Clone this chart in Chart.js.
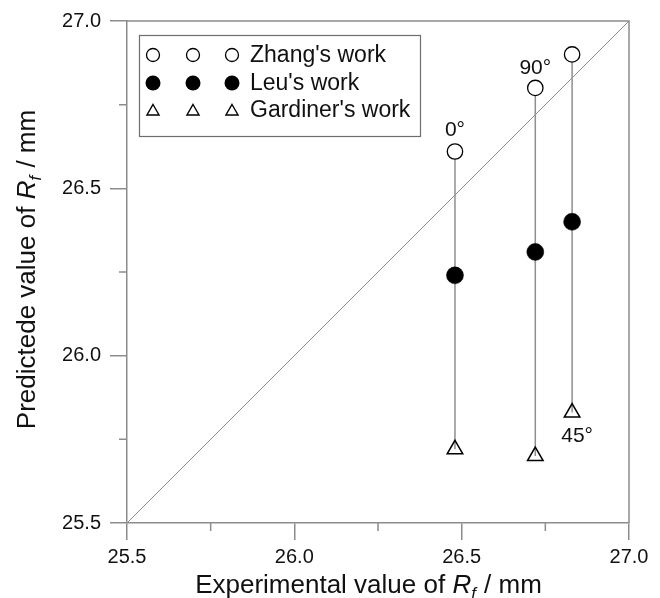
<!DOCTYPE html>
<html>
<head>
<meta charset="utf-8">
<script src="https://cdn.jsdelivr.net/npm/chart.js@4.4.0/dist/chart.umd.min.js"></script>
<style>
  html, body { margin: 0; padding: 0; background: #fff; }
  #wrap { width: 660px; height: 598px; }
</style>
</head>
<body>
<div id="wrap"><canvas id="rfChart"></canvas></div>
<script>
// Rolled radius R_f (mm): experiment vs three prediction models
const experimental = [26.48, 26.72, 26.83];
const zhangWork = [26.61, 26.80, 26.90];
const leuWork = [26.24, 26.31, 26.40];
const gardinerWork = [25.72, 25.70, 25.83];
const angleLabels = ['0°', '90°', '45°'];
const axisTicks = [25.5, 26.0, 26.5, 27.0];
const minorTicks = [25.75, 26.25, 26.75];
const axisRange = [25.5, 27.0];
const legendNames = ["Zhang's work", "Leu's work", "Gardiner's work"];

const AXIS_GRAY = '#8c8c8c';
const FONT = '"Liberation Sans", Arial, sans-serif';

// one vertical connector per experiment, from Zhang's point down to Gardiner's
const connectors = experimental.map((x, i) => ({
    type: 'scatter',
    showLine: true,
    data: [{ x: x, y: zhangWork[i] }, { x: x, y: gardinerWork[i] }],
    borderColor: '#8f8f8f',
    borderWidth: 1.5,
    pointRadius: 0,
    order: 2
}));

function toPoints(ys) {
    return experimental.map((x, i) => ({ x: x, y: ys[i] }));
}

function drawMarker(ctx, kind, x, y, r) {
    ctx.beginPath();
    if (kind === 'triangle') {
        ctx.moveTo(x, y - r);
        ctx.lineTo(x + r * 0.866, y + r / 2);
        ctx.lineTo(x - r * 0.866, y + r / 2);
        ctx.closePath();
        ctx.lineWidth = 1.4;
        ctx.strokeStyle = '#000';
        ctx.stroke();
        return;
    }
    ctx.arc(x, y, r, 0, Math.PI * 2);
    if (kind === 'filled') {
        ctx.fillStyle = '#000';
        ctx.fill();
    } else {
        ctx.fillStyle = '#fff';
        ctx.fill();
        ctx.lineWidth = 1.3;
        ctx.strokeStyle = '#000';
        ctx.stroke();
    }
}

// title with italic R and subscript f
function drawRfTitle(ctx, prefix, cx, cy, size) {
    const normal = size + 'px ' + FONT;
    const italic = 'italic ' + size + 'px ' + FONT;
    const sub = 'italic ' + Math.round(size * 0.66) + 'px ' + FONT;
    const tail = ' / mm';
    ctx.font = normal; const w1 = ctx.measureText(prefix).width;
    ctx.font = italic; const w2 = ctx.measureText('R').width;
    ctx.font = sub; const w3 = ctx.measureText('f').width;
    ctx.font = normal; const w4 = ctx.measureText(tail).width;
    let x0 = cx - (w1 + w2 + w3 + w4) / 2;
    ctx.textAlign = 'left';
    ctx.textBaseline = 'alphabetic';
    ctx.fillStyle = '#111';
    ctx.font = normal; ctx.fillText(prefix, x0, cy); x0 += w1;
    ctx.font = italic; ctx.fillText('R', x0, cy); x0 += w2;
    ctx.font = sub; ctx.fillText('f', x0, cy + size * 0.22); x0 += w3 + 1;
    ctx.font = normal; ctx.fillText(tail, x0, cy);
}

const decorations = {
    id: 'decorations',
    afterDraw(chart) {
        const { ctx, chartArea: a, scales: { x, y } } = chart;
        ctx.save();

        // close the frame on top and right
        ctx.strokeStyle = AXIS_GRAY;
        ctx.lineWidth = 1.5;
        ctx.beginPath();
        ctx.moveTo(a.left, a.top);
        ctx.lineTo(a.right, a.top);
        ctx.lineTo(a.right, a.bottom);
        ctx.stroke();

        // short minor ticks between the labelled ones
        ctx.beginPath();
        minorTicks.forEach(v => {
            const px = x.getPixelForValue(v);
            ctx.moveTo(px, a.bottom);
            ctx.lineTo(px, a.bottom + 8);
            const py = y.getPixelForValue(v);
            ctx.moveTo(a.left, py);
            ctx.lineTo(a.left - 8, py);
        });
        ctx.stroke();

        // angle labels next to the points
        const zhangMeta = chart.getDatasetMeta(4).data;
        const gardMeta = chart.getDatasetMeta(6).data;
        ctx.font = '21px ' + FONT;
        ctx.fillStyle = '#111';
        ctx.textAlign = 'center';
        ctx.textBaseline = 'alphabetic';
        ctx.fillText(angleLabels[0], zhangMeta[0].x, zhangMeta[0].y - 16);
        ctx.fillText(angleLabels[1], zhangMeta[1].x, zhangMeta[1].y - 14);
        ctx.fillText(angleLabels[2], gardMeta[2].x + 5, gardMeta[2].y + 29);

        // legend box with three markers per row
        ctx.strokeStyle = '#6e6e6e';
        ctx.lineWidth = 1.2;
        ctx.strokeRect(139.5, 35.5, 281, 101);
        const kinds = ['open', 'filled', 'triangle'];
        const sizes = [6.5, 7.5, 7];
        const rows = [55, 83, 111.5];
        kinds.forEach((k, r) => {
            [153, 193, 232].forEach(mx => drawMarker(ctx, k, mx, rows[r], sizes[r]));
        });
        ctx.font = '23px ' + FONT;
        ctx.fillStyle = '#111';
        ctx.textAlign = 'left';
        ctx.textBaseline = 'middle';
        legendNames.forEach((name, r) => ctx.fillText(name, 250, [56, 84, 111][r]));

        // axis titles
        drawRfTitle(ctx, 'Experimental value of ', 368, 593, 26);
        ctx.translate(35, 270);
        ctx.rotate(-Math.PI / 2);
        drawRfTitle(ctx, 'Predictede value of ', 0, 0, 26);
        ctx.restore();
    }
};

function axisOptions(fitFn) {
    return {
        type: 'linear',
        min: axisRange[0],
        max: axisRange[1],
        afterBuildTicks: s => { s.ticks = axisTicks.map(v => ({ value: v })); },
        afterFit: fitFn,
        ticks: {
            color: '#111',
            font: { family: FONT, size: 20 },
            callback: v => Number(v).toFixed(1)
        },
        grid: {
            drawOnChartArea: false,
            drawTicks: true,
            tickLength: 17,
            color: AXIS_GRAY,
            lineWidth: 1.5
        },
        border: { color: AXIS_GRAY, width: 1.5 }
    };
}

const xAxis = axisOptions(s => { s.height = 75; });
xAxis.ticks.padding = 5;
const yAxis = axisOptions(s => { s.width = 127; });
yAxis.ticks.padding = 9;

new Chart(document.getElementById('rfChart'), {
    type: 'scatter',
    data: {
        datasets: [
            {
                // 1:1 reference line
                showLine: true,
                data: [{ x: axisRange[0], y: axisRange[0] }, { x: axisRange[1], y: axisRange[1] }],
                borderColor: '#8f8f8f',
                borderWidth: 1,
                pointRadius: 0,
                order: 3
            },
            ...connectors,
            {
                label: legendNames[0],
                data: toPoints(zhangWork),
                pointStyle: 'circle',
                pointRadius: 7.7,
                backgroundColor: '#fff',
                borderColor: '#000',
                borderWidth: 1.3,
                order: 0
            },
            {
                label: legendNames[1],
                data: toPoints(leuWork),
                pointStyle: 'circle',
                pointRadius: 8.5,
                backgroundColor: '#000',
                borderColor: '#000',
                borderWidth: 0.5,
                order: 0
            },
            {
                label: legendNames[2],
                data: toPoints(gardinerWork),
                pointStyle: 'triangle',
                pointRadius: 9,
                backgroundColor: 'rgba(255,255,255,0)',
                borderColor: '#000',
                borderWidth: 1.5,
                order: 0
            }
        ]
    },
    options: {
        responsive: true,
        maintainAspectRatio: false,
        animation: false,
        layout: { padding: { top: 21, right: 31, left: 0, bottom: 0 } },
        plugins: {
            legend: { display: false },
            tooltip: { enabled: false }
        },
        scales: { x: xAxis, y: yAxis }
    },
    plugins: [decorations]
});
</script>
</body>
</html>
